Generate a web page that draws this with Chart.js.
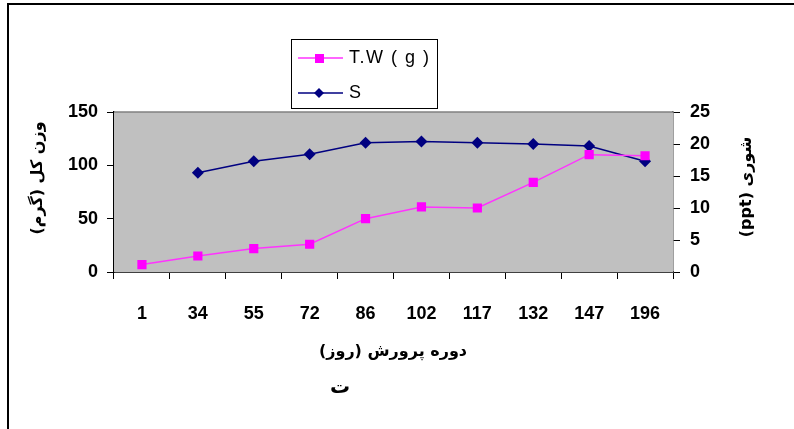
<!DOCTYPE html>
<html>
<head>
<meta charset="utf-8">
<script src="https://cdn.jsdelivr.net/npm/chart.js@4.4.1/dist/chart.umd.min.js"></script>
<style>
  html, body { margin: 0; padding: 0; background: #fff; }
  #wrap { width: 794px; height: 429px; position: relative; }
</style>
</head>
<body>
<div id="wrap"><canvas id="growthChart" width="794" height="429"></canvas></div>
<script>
// data
const days = ["1", "34", "55", "72", "86", "102", "117", "132", "147", "196"];
const totalWeight = [7, 15, 22, 26, 50, 61, 60, 84, 110, 109];
const salinity = [null, 15.5, 17.3, 18.4, 20.2, 20.4, 20.2, 20.0, 19.7, 17.3];
const weightTicks = [0, 50, 100, 150];
const salinityTicks = [0, 5, 10, 15, 20, 25];

const xTitle = "دوره پرورش (روز)";
const yLeftTitle = "وزن کل (گرم)";
const yRightTitle = "شوری (ppt)";
const caption = "ت";

const tickFont = { family: "'Liberation Sans', Arial, sans-serif", size: 18, weight: "bold" };
const arabicFont = "bold 16px 'DejaVu Sans', sans-serif";

// grey plot area + frame, titles and the boxed legend
const decor = {
  id: "decor",
  beforeDatasetsDraw(chart) {
    const { ctx, chartArea: a } = chart;
    ctx.save();
    ctx.fillStyle = "#c0c0c0";
    ctx.fillRect(a.left, a.top, a.right - a.left, a.bottom - a.top);
    ctx.strokeStyle = "#808080";
    ctx.lineWidth = 1.5;
    ctx.beginPath();
    ctx.moveTo(a.left, a.top);
    ctx.lineTo(a.right, a.top);
    ctx.stroke();
    ctx.restore();
  },
  afterDraw(chart) {
    const { ctx } = chart;
    ctx.save();
    // outer frame (left and top only)
    ctx.strokeStyle = "#000";
    ctx.lineWidth = 2;
    ctx.beginPath();
    ctx.moveTo(8, 429);
    ctx.lineTo(8, 4);
    ctx.lineTo(794, 4);
    ctx.stroke();

    ctx.fillStyle = "#000";
    ctx.font = arabicFont;
    ctx.textAlign = "center";
    ctx.textBaseline = "middle";
    ctx.direction = "rtl";
    ctx.fillText(xTitle, 393, 352);
    ctx.font = "bold 20px 'DejaVu Sans', sans-serif";
    ctx.fillText(caption, 340, 388);

    ctx.font = arabicFont;
    ctx.save();
    ctx.translate(38, 178);
    ctx.rotate(-Math.PI / 2);
    ctx.fillText(yLeftTitle, 0, 0);
    ctx.restore();
    ctx.save();
    ctx.translate(747, 187);
    ctx.rotate(-Math.PI / 2);
    ctx.fillText(yRightTitle, 0, 0);
    ctx.restore();
    ctx.direction = "ltr";

    // legend
    ctx.strokeStyle = "#000";
    ctx.lineWidth = 1;
    ctx.strokeRect(291.5, 39.5, 146, 69);
    ctx.font = "18px 'Liberation Sans', Arial, sans-serif";
    ctx.letterSpacing = "1.5px";
    ctx.textAlign = "left";
    chart.data.datasets.forEach((ds, i) => {
      const y = i === 0 ? 58 : 93;
      ctx.strokeStyle = ds.borderColor;
      ctx.lineWidth = ds.borderWidth;
      ctx.beginPath();
      ctx.moveTo(298, y);
      ctx.lineTo(343, y);
      ctx.stroke();
      ctx.fillStyle = ds.pointBackgroundColor;
      if (ds.pointStyle === "rect") {
        ctx.fillRect(315, y - 4, 9, 9);
      } else {
        ctx.beginPath();
        ctx.moveTo(319, y - 5);
        ctx.lineTo(324, y);
        ctx.lineTo(319, y + 5);
        ctx.lineTo(314, y);
        ctx.closePath();
        ctx.fill();
      }
      ctx.fillStyle = "#000";
      ctx.fillText(ds.label, 349, y);
    });
    ctx.restore();
  }
};

const ctx = document.getElementById("growthChart").getContext("2d");
new Chart(ctx, {
  type: "line",
  data: {
    labels: days,
    datasets: [
      {
        label: "T.W ( g )",
        data: totalWeight,
        yAxisID: "yW",
        borderColor: "#ff33ff",
        borderWidth: 1.5,
        pointStyle: "rect",
        pointRadius: 6.5,
        pointBackgroundColor: "#ff00ff",
        pointBorderColor: "#ff00ff",
        pointBorderWidth: 0,
        tension: 0
      },
      {
        label: "S",
        data: salinity,
        yAxisID: "yS",
        borderColor: "#000080",
        borderWidth: 1.5,
        pointStyle: "rectRot",
        pointRadius: 6,
        pointBackgroundColor: "#000080",
        pointBorderColor: "#000080",
        pointBorderWidth: 0,
        tension: 0
      }
    ]
  },
  options: {
    responsive: false,
    animation: false,
    layout: { padding: { top: 112, left: 0, right: 0, bottom: 0 } },
    plugins: { legend: { display: false }, tooltip: { enabled: false } },
    scales: {
      x: {
        offset: true,
        grid: { offset: true, drawOnChartArea: false, tickLength: 7, color: "#000", tickWidth: 1 },
        border: { display: true, color: "#404040", width: 2 },
        ticks: { color: "#000", font: tickFont, padding: 24, maxRotation: 0, autoSkip: false },
        afterFit(s) { s.height = 157; }
      },
      yW: {
        position: "left",
        min: 0,
        max: 150,
        afterBuildTicks(s) { s.ticks = weightTicks.map(v => ({ value: v })); },
        grid: { drawOnChartArea: false, tickLength: 7, color: "#000" },
        border: { display: true, color: "#000", width: 1.5 },
        ticks: { color: "#000", font: tickFont, padding: 9 },
        afterFit(s) { s.width = 114; }
      },
      yS: {
        position: "right",
        min: 0,
        max: 25,
        afterBuildTicks(s) { s.ticks = salinityTicks.map(v => ({ value: v })); },
        grid: { drawOnChartArea: false, tickLength: 7, color: "#000" },
        border: { display: true, color: "#404040", width: 1.5 },
        ticks: { color: "#000", font: tickFont, padding: 10 },
        afterFit(s) { s.width = 121; }
      }
    }
  },
  plugins: [decor]
});
</script>
</body>
</html>
